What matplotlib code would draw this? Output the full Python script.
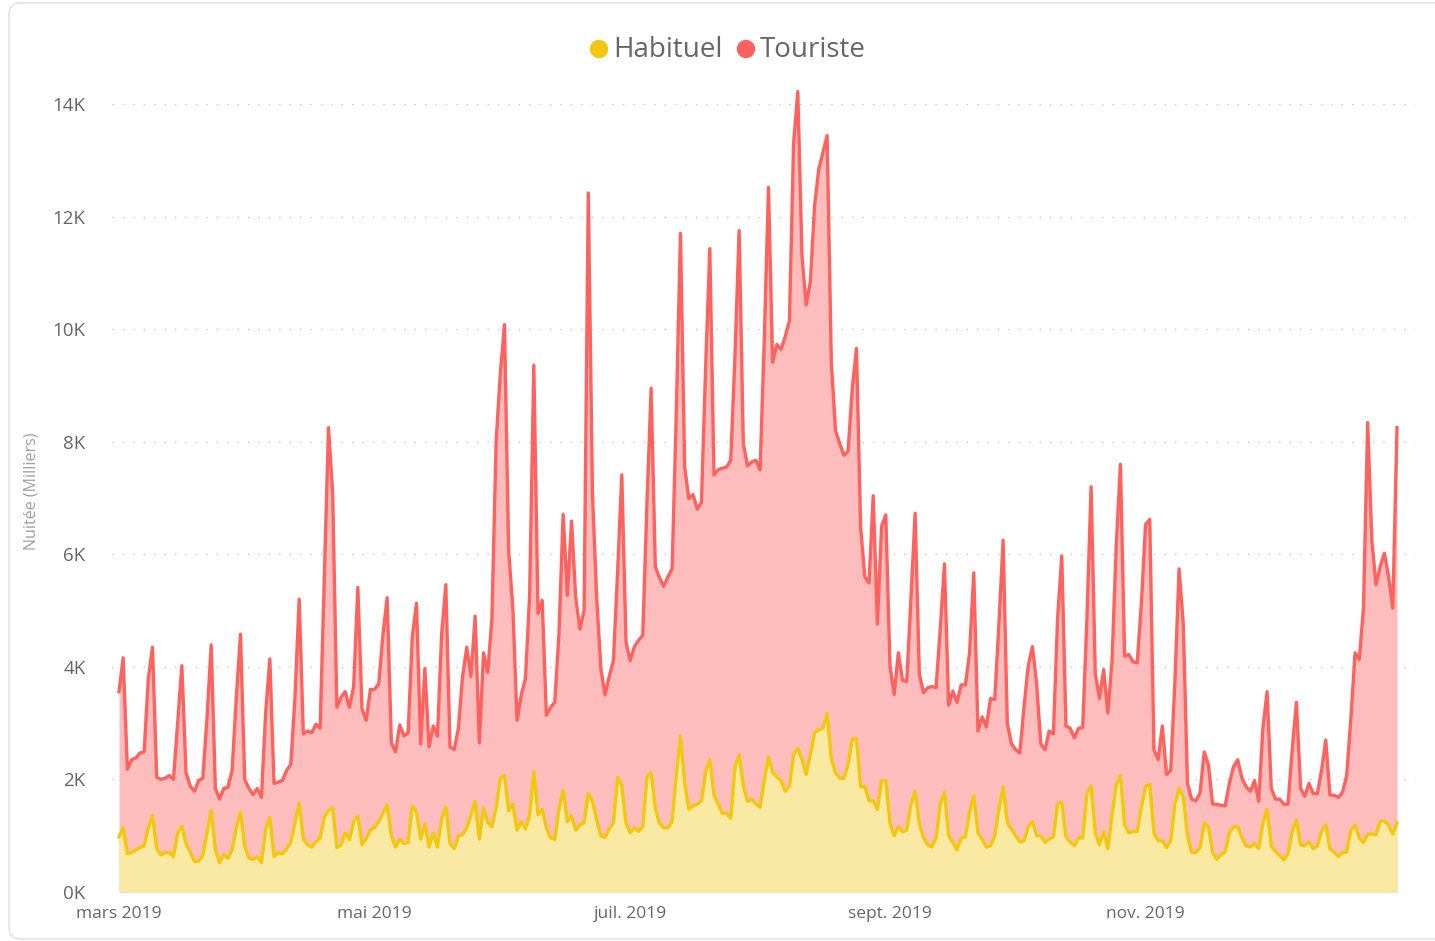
import pandas as pd
import matplotlib
matplotlib.use("Agg")
import matplotlib.pyplot as plt
from matplotlib.patches import FancyBboxPatch, Circle

start_date = "2019-03-01"

# nuitees journalieres en milliers, du 1er mars au 31 dec. 2019
touriste = [
    3.56, 4.16, 2.18, 2.35, 2.38, 2.47, 2.49, 3.79, 4.35, 2.04, 2.0, 2.02, 2.07, 2.0,
    3.0, 4.02, 2.12, 1.88, 1.79, 1.98, 2.02, 3.09, 4.39, 1.84, 1.65, 1.84, 1.86, 2.16,
    3.46, 4.58, 2.0, 1.84, 1.73, 1.84, 1.68, 3.18, 4.14, 1.93, 1.95, 1.98, 2.16, 2.27,
    3.46, 5.2, 2.81, 2.86, 2.83, 2.98, 2.91, 5.6, 8.25, 7.08, 3.28, 3.46, 3.56, 3.28,
    3.65, 5.41, 3.25, 3.05, 3.6, 3.6, 3.7, 4.58, 5.23, 2.65, 2.49, 2.97, 2.77, 2.83,
    4.53, 5.13, 2.63, 3.97, 2.58, 2.95, 2.77, 4.58, 5.46, 2.58, 2.53, 2.91, 3.83, 4.35,
    3.83, 4.9, 2.65, 4.25, 3.9, 4.86, 8.0, 9.2, 10.08, 6.06, 5.04, 3.05, 3.5, 3.79,
    5.27, 9.36, 4.95, 5.18, 3.14, 3.28, 3.37, 4.58, 6.71, 5.27, 6.59, 5.23, 4.67, 5.0,
    12.42, 7.08, 5.23, 3.97, 3.5, 3.83, 4.11, 5.69, 7.41, 4.44, 4.11, 4.36, 4.47, 4.56,
    6.9, 8.95, 5.78, 5.58, 5.43, 5.6, 5.74, 8.5, 11.7, 7.55, 6.99, 7.06, 6.8, 6.92,
    9.3, 11.43, 7.41, 7.5, 7.53, 7.55, 7.67, 9.5, 11.75, 7.97, 7.57, 7.64, 7.67, 7.5,
    9.8, 12.52, 9.41, 9.73, 9.64, 9.87, 10.15, 13.3, 14.22, 11.31, 10.43, 10.84, 12.19, 12.84,
    13.14, 13.44, 9.41, 8.2, 7.97, 7.76, 7.83, 8.94, 9.66, 6.48, 5.6, 5.49, 7.04, 4.76,
    6.5, 6.7, 4.02, 3.51, 4.25, 3.76, 3.74, 5.2, 6.73, 3.88, 3.54, 3.63, 3.65, 3.63,
    4.67, 5.83, 3.32, 3.57, 3.37, 3.68, 3.68, 4.25, 5.67, 2.86, 3.11, 2.93, 3.44, 3.42,
    4.76, 6.25, 3.0, 2.63, 2.53, 2.47, 3.3, 4.02, 4.36, 3.70, 2.63, 2.53, 2.86, 2.81,
    4.86, 5.97, 2.95, 2.91, 2.74, 2.91, 2.92, 4.86, 7.2, 3.88, 3.44, 3.95, 3.18, 4.11,
    6.16, 7.6, 4.19, 4.22, 4.09, 4.07, 5.13, 6.53, 6.62, 2.53, 2.35, 2.95, 2.09, 2.16,
    3.74, 5.74, 4.76, 1.93, 1.65, 1.62, 1.76, 2.49, 2.26, 1.56, 1.56, 1.54, 1.53, 1.93,
    2.23, 2.35, 2.02, 1.87, 1.79, 1.98, 1.61, 2.91, 3.56, 1.84, 1.65, 1.65, 1.56, 1.56,
    2.53, 3.37, 1.84, 1.70, 1.93, 1.75, 1.75, 2.16, 2.70, 1.72, 1.72, 1.68, 1.77, 2.07,
    3.09, 4.25, 4.13, 5.04, 8.34, 6.25, 5.46, 5.78, 6.02, 5.60, 5.04, 8.25,
]
habituel = [
    0.98, 1.14, 0.68, 0.70, 0.75, 0.79, 0.82, 1.14, 1.36, 0.77, 0.66, 0.70, 0.70, 0.63,
    1.05, 1.17, 0.86, 0.71, 0.54, 0.55, 0.65, 1.05, 1.45, 0.75, 0.52, 0.66, 0.60, 0.75,
    1.14, 1.42, 0.82, 0.60, 0.58, 0.63, 0.52, 1.12, 1.33, 0.63, 0.70, 0.68, 0.77, 0.88,
    1.23, 1.58, 0.94, 0.84, 0.80, 0.89, 0.96, 1.33, 1.45, 1.49, 0.79, 0.84, 1.05, 0.93,
    1.25, 1.35, 0.84, 0.95, 1.1, 1.15, 1.25, 1.4, 1.55, 1.0, 0.80, 0.94, 0.86, 0.88,
    1.53, 1.42, 0.94, 1.21, 0.80, 1.05, 0.80, 1.30, 1.51, 0.86, 0.77, 1.0, 1.02, 1.14,
    1.37, 1.61, 0.94, 1.49, 1.23, 1.16, 1.5, 2.02, 2.07, 1.44, 1.56, 1.10, 1.25, 1.12,
    1.37, 2.14, 1.37, 1.47, 1.14, 0.96, 0.94, 1.47, 1.81, 1.25, 1.35, 1.10, 1.19, 1.23,
    1.75, 1.61, 1.28, 1.0, 0.97, 1.12, 1.23, 2.04, 1.88, 1.23, 1.05, 1.14, 1.08, 1.16,
    2.04, 2.12, 1.49, 1.22, 1.14, 1.14, 1.25, 2.07, 2.77, 1.93, 1.47, 1.53, 1.56, 1.62,
    2.12, 2.35, 1.73, 1.56, 1.40, 1.40, 1.31, 2.21, 2.44, 1.88, 1.61, 1.65, 1.56, 1.51,
    1.98, 2.40, 2.12, 2.04, 1.98, 1.79, 1.88, 2.44, 2.55, 2.35, 2.09, 2.44, 2.83, 2.88,
    2.91, 3.17, 2.37, 2.12, 2.02, 2.02, 2.26, 2.72, 2.72, 1.87, 1.88, 1.62, 1.62, 1.47,
    1.98, 1.98, 1.22, 1.0, 1.16, 1.07, 1.10, 1.56, 1.79, 1.22, 0.96, 0.84, 0.80, 0.96,
    1.56, 1.77, 1.0, 0.88, 0.75, 0.96, 0.98, 1.42, 1.71, 1.05, 0.94, 0.80, 0.82, 1.0,
    1.47, 1.87, 1.23, 1.12, 1.0, 0.89, 0.91, 1.16, 1.25, 1.0, 1.0, 0.88, 0.94, 0.98,
    1.56, 1.59, 0.98, 0.89, 0.82, 0.96, 0.96, 1.75, 1.88, 1.05, 0.84, 1.07, 0.77, 1.37,
    1.90, 2.07, 1.19, 1.05, 1.08, 1.07, 1.51, 1.88, 1.91, 1.05, 0.91, 0.91, 0.79, 0.91,
    1.56, 1.84, 1.70, 1.0, 0.70, 0.70, 0.79, 1.23, 1.16, 0.70, 0.58, 0.66, 0.72, 1.05,
    1.16, 1.16, 0.96, 0.82, 0.80, 0.86, 0.77, 1.23, 1.47, 0.82, 0.72, 0.65, 0.57, 0.68,
    1.08, 1.28, 0.84, 0.82, 0.89, 0.77, 0.82, 1.08, 1.19, 0.77, 0.71, 0.63, 0.70, 0.71,
    1.10, 1.19, 0.96, 0.88, 1.03, 1.03, 1.02, 1.26, 1.26, 1.19, 1.03, 1.23,
]

series_names = ["Habituel", "Touriste"]
month_ticks = ["2019-03-01", "2019-05-01", "2019-07-01", "2019-09-01", "2019-11-01"]
month_labels = ["mars 2019", "mai 2019", "juil. 2019", "sept. 2019", "nov. 2019"]
y_ticks = [0, 2, 4, 6, 8, 10, 12, 14]

red_line, red_fill = "#FD625E", "#FDBDBD"
yellow_line, yellow_fill = "#F2C80F", "#F9E8A2"
text_grey = "#666666"

plt.rcParams["font.family"] = ["Open Sans", "DejaVu Sans"]

W, H = 1435, 941
fig = plt.figure(figsize=(W / 100, H / 100), dpi=100)

# cadre de la carte
fig.patches.append(FancyBboxPatch((9, 2), 1450, 936, boxstyle="round,pad=0,rounding_size=12",
                                  transform=None, facecolor="none", edgecolor="#E3E3E3", lw=1.2))

ax = fig.add_axes([112 / W, 1 - 892 / H, (1415 - 112) / W, (892 - 104) / H])
dates = pd.date_range(start_date, periods=len(touriste))

ax.fill_between(dates, touriste, color=red_fill, lw=0, zorder=2, clip_on=False)
ax.plot(dates, touriste, color=red_line, lw=2.4, zorder=3, clip_on=False, solid_joinstyle="round")
ax.fill_between(dates, habituel, color=yellow_fill, lw=0, zorder=4, clip_on=False)
ax.plot(dates, habituel, color=yellow_line, lw=2.4, zorder=5, clip_on=False, solid_joinstyle="round")

ax.set_ylim(0, 14)
ax.set_xlim(dates[0] - pd.Timedelta(days=1.67), dates[0] + pd.Timedelta(days=309.3))

ax.set_yticks(y_ticks)
ax.set_yticklabels([f"{v}K" for v in y_ticks])
ax.set_xticks(pd.to_datetime(month_ticks))
ax.set_xticklabels(month_labels)
ax.tick_params(axis="y", length=0, pad=19, labelsize=13.5, labelcolor=text_grey)
ax.tick_params(axis="x", length=0, pad=10, labelsize=12.5, labelcolor=text_grey)
ax.grid(axis="y", color="#C4C4C4", lw=1, linestyle=(0, (1, 6.5)), zorder=0)
ax.set_axisbelow(True)
for s in ax.spines.values():
    s.set_visible(False)

fig.text(32 / W, 1 - 491 / H, "Nuitée (Milliers)", rotation=90, ha="center", va="center",
         fontsize=11.5, color="#9E9E9E")

# legende
legend_y = 1 - 50 / H
for name, color, cx, tx in [(series_names[0], yellow_line, 599, 613),
                            (series_names[1], red_line, 746, 760)]:
    fig.patches.append(Circle((cx, H - 49), 8.5, transform=None, color=color))
    fig.text(tx / W, legend_y, name, ha="left", va="center", fontsize=20, color=text_grey)

fig.savefig("out.png", dpi=100)
